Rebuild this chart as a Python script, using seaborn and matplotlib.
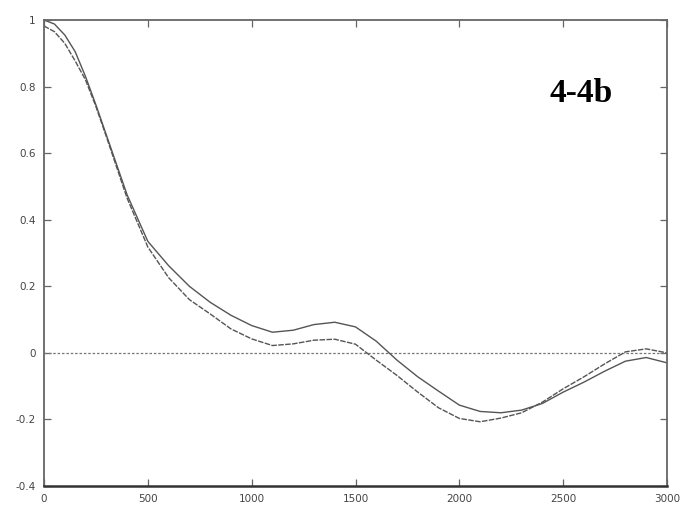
import matplotlib
matplotlib.use("Agg")
import matplotlib.pyplot as plt
import seaborn as sns
import pandas as pd

# Data
x_vals = [0, 50, 100, 150, 200, 250, 300, 400, 500, 600, 700, 800, 900, 1000,
          1100, 1200, 1300, 1400, 1500, 1600, 1700, 1800, 1900, 2000,
          2100, 2200, 2300, 2400, 2500, 2600, 2700, 2800, 2900, 3000]
curve_a = [1.000, 0.988, 0.955, 0.905, 0.830, 0.745, 0.655, 0.475, 0.335, 0.262, 0.200, 0.152, 0.113, 0.082,
           0.062, 0.068, 0.085, 0.092, 0.078, 0.035, -0.022, -0.072, -0.115, -0.157,
           -0.176, -0.180, -0.172, -0.152, -0.118, -0.088, -0.055, -0.025, -0.014, -0.030]
curve_b = [0.982, 0.965, 0.930, 0.877, 0.820, 0.740, 0.650, 0.465, 0.318, 0.226, 0.160, 0.117, 0.072, 0.042,
           0.022, 0.027, 0.038, 0.041, 0.026, -0.022, -0.068, -0.118, -0.165, -0.197,
           -0.207, -0.196, -0.180, -0.148, -0.108, -0.072, -0.033, 0.003, 0.012, 0.000]
y_ticks = [-0.4, -0.2, 0, 0.2, 0.4, 0.6, 0.8, 1]
y_tick_labels = ["-0.4", "-0.2", "0", "0.2", "0.4", "0.6", "0.8", "1"]
x_ticks = [0, 500, 1000, 1500, 2000, 2500, 3000]
x_tick_labels = ["0", "500", "1000", "1500", "2000", "2500", "3000"]
zero_line = [0.0, 0.0]
zero_x = [0, 3000]
label_text = "4-4b"

sns.set_style("white")
plt.rcParams['font.family'] = ['DejaVu Sans']

df_a = pd.DataFrame({"x": x_vals, "y": curve_a})
df_b = pd.DataFrame({"x": x_vals, "y": curve_b})
df_z = pd.DataFrame({"x": zero_x, "y": zero_line})

fig = plt.figure(figsize=(6.86, 5.15), dpi=100)
ax = fig.add_axes([44/686, 1 - 486/515, (667-44)/686, (486-20)/515])

sns.lineplot(data=df_z, x="x", y="y", ax=ax, color="#777777", lw=0.9,
             linestyle=(0, (2, 1.5)))
sns.lineplot(data=df_a, x="x", y="y", ax=ax, color="#555555", lw=1.0)
sns.lineplot(data=df_b, x="x", y="y", ax=ax, color="#555555", lw=1.0,
             linestyle=(0, (4, 1)))

ax.set_xlim(0, 3000)
ax.set_ylim(-0.4, 1.0)
ax.set_xticks(x_ticks)
ax.set_xticklabels(x_tick_labels)
ax.set_yticks(y_ticks)
ax.set_yticklabels(y_tick_labels)
ax.set_xlabel("")
ax.set_ylabel("")
ax.tick_params(direction="in", length=5, width=0.9, color="#666666",
               labelsize=7.5, labelcolor="#444444", top=True, right=True,
               bottom=True, left=True, pad=6)
for side, sp in ax.spines.items():
    sp.set_visible(True)
    sp.set_color("#666666")
    sp.set_linewidth(1.3)
ax.spines["bottom"].set_linewidth(1.8)
ax.spines["bottom"].set_color("#333333")

fig.text(581/686, 1 - 94/515, label_text, ha="center", va="center",
         fontsize=24, fontweight="bold", family=["Liberation Serif"], color="black")

fig.savefig("out.png", dpi=100)
